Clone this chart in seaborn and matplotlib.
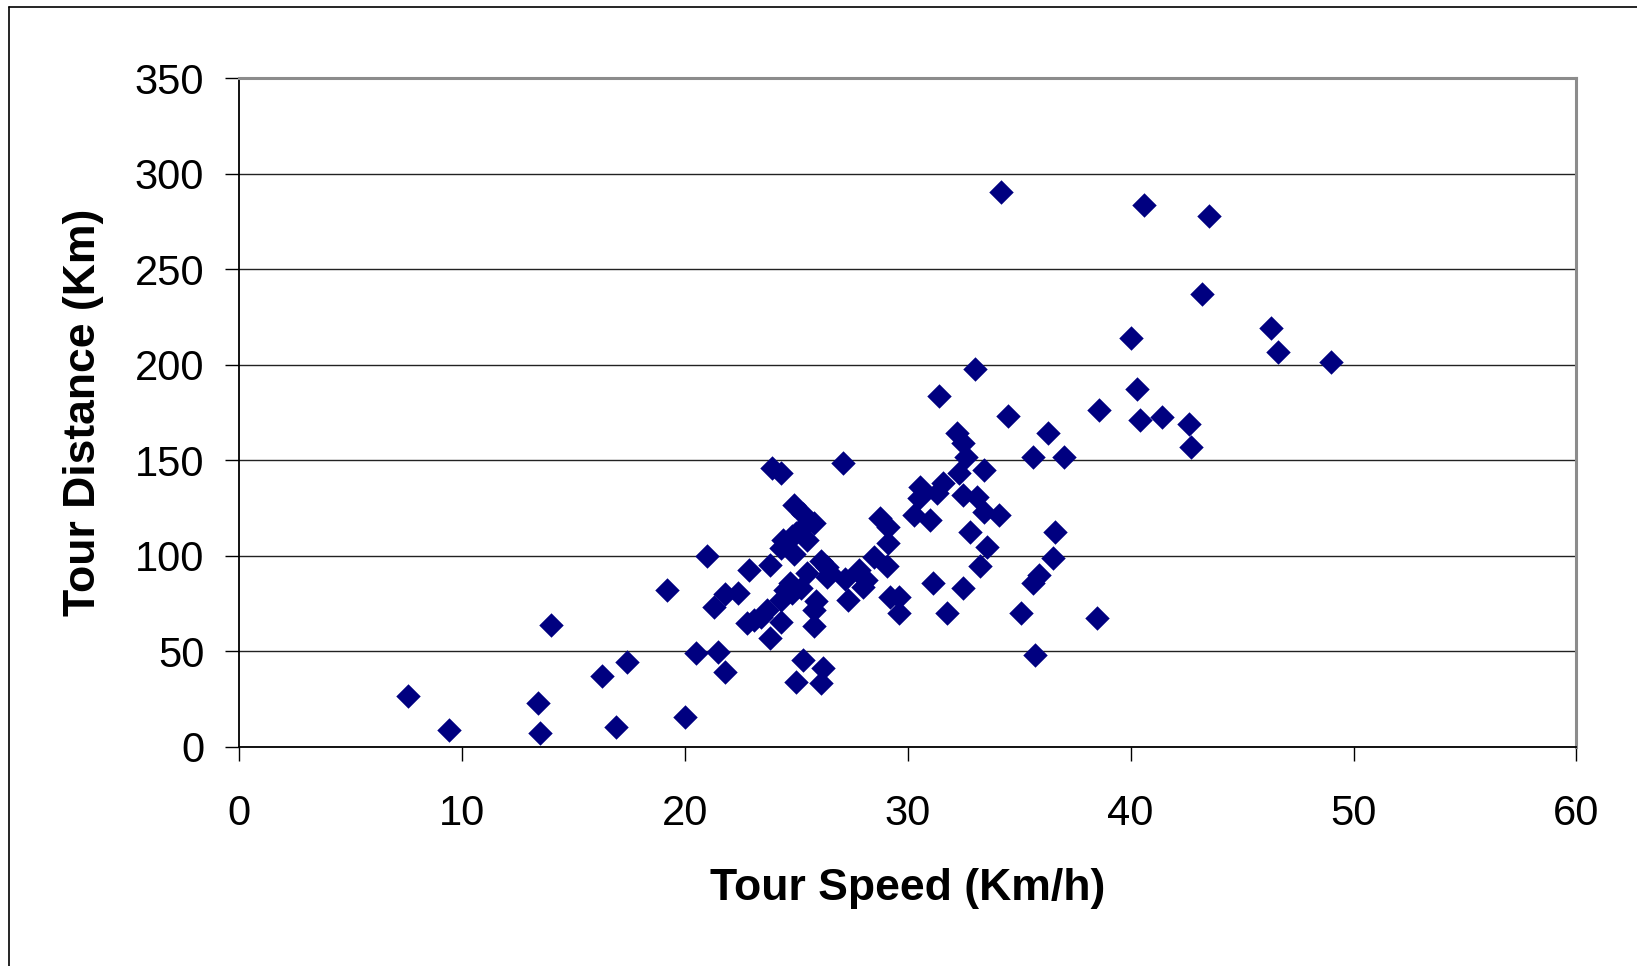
import numpy as np
import pandas as pd
import seaborn as sns
import matplotlib.pyplot as plt
from matplotlib.lines import Line2D

# values
speed = [
    7.6, 9.4, 13.4, 13.5, 14.0, 16.3, 16.9, 17.4, 19.2, 20.0,
    20.5, 21.5, 21.8, 21.0, 21.3, 21.8, 22.4, 22.9, 22.8, 23.4,
    23.8, 24.3, 23.9, 24.3, 27.1, 23.8, 24.4, 24.9, 24.9, 25.3,
    25.8, 25.5, 25.0, 24.5, 24.8, 25.2, 24.3, 25.5, 26.4, 26.4,
    25.9, 25.8, 25.8, 27.2, 27.3, 28.0, 27.8, 28.5, 29.05, 28.75,
    29.1, 29.1, 29.2, 29.6, 29.6, 25.3, 25.0, 26.2, 26.1, 23.1,
    23.7, 24.7, 30.55, 31.6, 30.5, 31.3, 32.5, 33.1, 30.3, 31.0,
    33.4, 34.1, 32.8, 33.55, 33.25, 28.15, 31.15, 32.5, 31.75, 32.2,
    32.5, 32.6, 33.4, 32.3, 35.6, 37.0, 36.3, 36.6, 36.5, 35.9,
    35.6, 35.1, 38.5, 35.7, 38.6, 34.5, 31.4, 33.0, 34.2, 40.6,
    43.5, 43.2, 40.0, 46.3, 46.6, 49.0, 40.3, 40.4, 41.4, 42.6,
    42.7, 24.3, 24.8, 25.2, 26.1, 26.5,
]
distance = [
    26.5, 8.6, 22.6, 7, 63.8, 37.1, 10.4, 44.1, 81.9, 15.6,
    48.8, 49.7, 39.2, 99.6, 73.3, 80.0, 80.2, 92.5, 64.5, 68,
    56.7, 65.4, 146, 143, 148.3, 95, 108, 101, 126.5, 122,
    117, 108, 112, 82, 80.5, 83, 77, 91, 94, 89,
    76, 71.5, 63, 87.5, 77, 83.7, 92.5, 99.4, 94.3, 119.5,
    115, 106.4, 78.5, 78.5, 69.8, 45.3, 34, 41, 33.3, 66.3,
    71.4, 85.4, 136.1, 137.8, 130, 132.7, 131.7, 130.9, 121.3, 118.6,
    123, 121.3, 112.5, 104.7, 94.3, 87.3, 85.4, 82.8, 69.8, 164.4,
    158.8, 151.8, 144.9, 143, 151.8, 151.8, 164, 112.5, 98.6, 89.8,
    85.4, 69.8, 67.1, 47.9, 176.2, 173.1, 183.6, 197.7, 290.6, 283.8,
    278.1, 237, 213.8, 219.3, 206.6, 201.3, 187.1, 171.0, 172.5, 169,
    157.1, 104, 110, 114, 97, 91,
]
x_ticks = [0, 10, 20, 30, 40, 50, 60]
y_ticks = [0, 50, 100, 150, 200, 250, 300, 350]

df = pd.DataFrame({'speed': speed, 'distance': distance})

sns.set_style('white')
plt.rcParams['font.family'] = ['Liberation Sans', 'DejaVu Sans']
plt.rcParams['text.color'] = 'black'
plt.rcParams['axes.labelcolor'] = 'black'
plt.rcParams['xtick.color'] = 'black'
plt.rcParams['ytick.color'] = 'black'

fig = plt.figure(figsize=(16.37, 9.66), dpi=100)
ax = fig.add_axes([0.146, 0.2272, 0.817, 0.6918])

sns.scatterplot(data=df, x='speed', y='distance', marker='D', s=155,
                color='#000080', linewidth=0, ax=ax, zorder=3)

ax.set_xlim(0, 60)
ax.set_ylim(0, 350)
ax.set_xticks(x_ticks)
ax.set_yticks(y_ticks)
ax.yaxis.grid(True, color='#222222', lw=1.0)
ax.set_axisbelow(True)

for side in ['left', 'bottom']:
    ax.spines[side].set_color('black')
    ax.spines[side].set_linewidth(1.3)
for side in ['top', 'right']:
    ax.spines[side].set_color('#8c8c8c')
    ax.spines[side].set_linewidth(2.2)
    ax.spines[side].set_visible(True)

ax.tick_params(axis='both', direction='out', length=10, width=1,
               color='black', labelcolor='black', labelsize=30,
               left=True, bottom=True)
ax.tick_params(axis='y', pad=15)
ax.tick_params(axis='x', pad=24)

ax.set_xlabel('Tour Speed (Km/h)', fontsize=32, fontweight='bold', color='black')
ax.set_ylabel('Tour Distance (Km)', fontsize=32, fontweight='bold', color='black')
ax.xaxis.set_label_coords(0.5, -0.212)
ax.xaxis.label.set_va('center')
ax.yaxis.set_label_coords(-0.1163, 0.5)
ax.yaxis.label.set_va('center')

# outer chart border (top and left edges only visible)
fig.add_artist(Line2D([9 / 1637, 1], [1 - 7 / 966, 1 - 7 / 966],
                      color='black', lw=1.2, transform=fig.transFigure))
fig.add_artist(Line2D([9 / 1637, 9 / 1637], [0, 1 - 7 / 966],
                      color='black', lw=1.2, transform=fig.transFigure))

fig.savefig('out.png', dpi=100)
